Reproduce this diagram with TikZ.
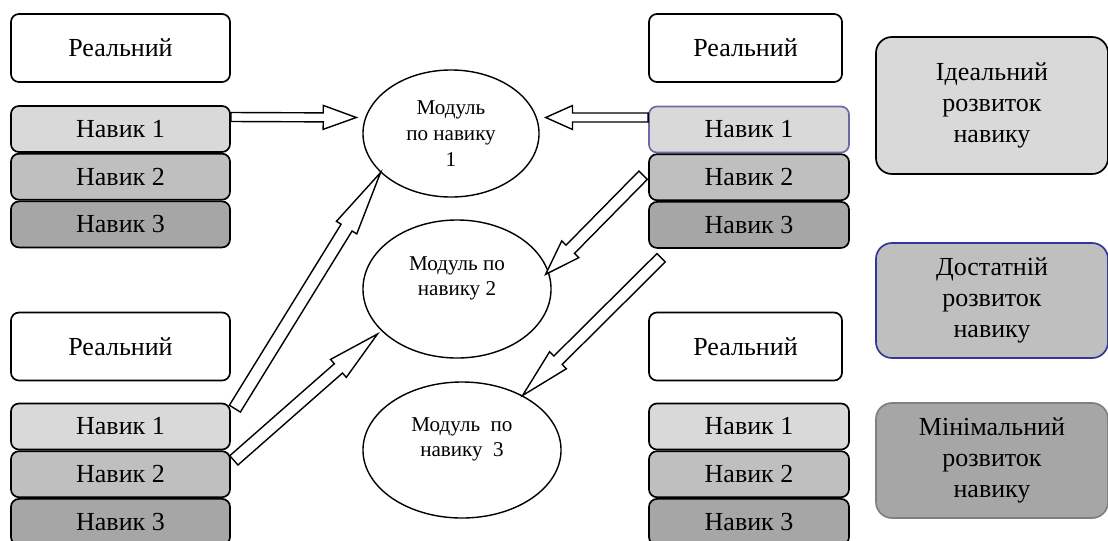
\documentclass[tikz,border=0pt]{standalone}
\usepackage{fontspec}
\setmainfont{Liberation Serif}
\usetikzlibrary{positioning,calc,shapes.geometric}
\definecolor{SkillOne}{HTML}{D9D9D9}
\definecolor{SkillTwo}{HTML}{BFBFBF}
\definecolor{SkillThree}{HTML}{A6A6A6}
\definecolor{EdgeBlue}{HTML}{35359E}
\definecolor{EdgeViolet}{HTML}{6A6AA6}
\definecolor{EdgeGray}{HTML}{808080}

% hollow block arrow: head length, half shaft width, from, to
\newcommand\blockarrow[4]{%
  \coordinate (ba-t) at (#3);
  \coordinate (ba-p) at (#4);
  \coordinate (ba-h) at ($(ba-p)!#1!(ba-t)$);
  \draw[blockarr] ($(ba-t)!#2!-90:(ba-p)$) -- ($(ba-h)!#2!-90:(ba-p)$)
    -- ($(ba-h)!8.5pt!-90:(ba-p)$) -- (ba-p) -- ($(ba-h)!8.5pt!90:(ba-p)$)
    -- ($(ba-h)!#2!90:(ba-p)$) -- ($(ba-t)!#2!90:(ba-p)$) -- cycle;}

\begin{document}
\begin{tikzpicture}[
    x=0.025cm, y=-0.025cm,
    font=\fontsize{18.5}{22}\selectfont,
    real/.style={draw, line width=1.2pt, rounded corners=2mm, fill=white, minimum width=#1, minimum height=1.7cm, inner sep=0pt},
    skill/.style={draw, line width=1.2pt, rounded corners=2mm, minimum width=#1, minimum height=1.15cm, inner sep=0pt},
    module/.style={draw, ellipse, line width=1pt, inner sep=0pt, align=center, font=\fontsize{15}{18.2}\selectfont},
    level/.style={draw, line width=1.2pt, rounded corners=4mm, minimum width=5.8cm, align=center, inner sep=0pt},
    blockarr/.style={draw, fill=white, line width=1pt, line join=miter}
]
\useasboundingbox (0,0) rectangle (1108,540);

% left column
\node[real=5.475cm] (rl1) at (120.5,48) {Реальний};
\node[skill=5.475cm, fill=SkillOne] (l1a) at (120.5,129) {Навик 1};
\node[skill=5.475cm, fill=SkillTwo, below=0pt of l1a] (l1b) {Навик 2};
\node[skill=5.475cm, fill=SkillThree, below=0pt of l1b] (l1c) {Навик 3};

\node[real=5.475cm] (rl2) at (120.5,346.5) {Реальний};
\node[skill=5.475cm, fill=SkillOne] (l2a) at (120.5,426.5) {Навик 1};
\node[skill=5.475cm, fill=SkillTwo, below=0pt of l2a] (l2b) {Навик 2};
\node[skill=5.475cm, fill=SkillThree, below=0pt of l2b] (l2c) {Навик 3};

% right column
\node[real=4.825cm] (rr1) at (745.5,48) {Реальний};
\node[skill=5cm, fill=SkillOne, draw=EdgeViolet] (r1a) at (749,129.5) {Навик 1};
\node[skill=5cm, fill=SkillTwo, below=0pt of r1a] (r1b) {Навик 2};
\node[skill=5cm, fill=SkillThree, below=0pt of r1b] (r1c) {Навик 3};

\node[real=4.825cm] (rr2) at (745.5,346.5) {Реальний};
\node[skill=5cm, fill=SkillOne] (r2a) at (749,426.5) {Навик 1};
\node[skill=5cm, fill=SkillTwo, below=0pt of r2a] (r2b) {Навик 2};
\node[skill=5cm, fill=SkillThree, below=0pt of r2b] (r2c) {Навик 3};

% modules
\node[module, minimum width=4.4cm, minimum height=3.175cm] (m1) at (451,133.5) {Модуль\\по навику\\1};
\node[module, minimum width=4.7cm, minimum height=3.45cm] (m2) at (457,289) {Модуль по\\навику 2\\\mbox{}};
\node[module, minimum width=4.95cm, minimum height=3.4cm] (m3) at (462,450) {Модуль~~по\\навику~~3\\\mbox{}};

% levels
\node[level, fill=SkillOne, minimum height=3.425cm] (ideal) at (992,105.5) {Ідеальний\\розвиток\\навику};
\node[level, fill=SkillTwo, draw=EdgeBlue, minimum height=2.875cm] (enough) at (992,300.5) {Достатній\\розвиток\\навику};
\node[level, fill=SkillThree, draw=EdgeGray, minimum height=2.875cm] (minimal) at (992,460.5) {Мінімальний\\розвиток\\навику};

\blockarrow{23.5pt}{3.2pt}{$(l1a.east)+(0,-12)$}{$(m1.west)+(-6,-16)$}
\blockarrow{19pt}{3.2pt}{$(r1a.west)+(0,-12)$}{$(m1.east)+(6,-16)$}
\blockarrow{46pt}{4.6pt}{$(l2a.north east)+(4,6)$}{m1.209}
\blockarrow{37pt}{4.4pt}{$(l2b.north east)+(3,10)$}{$(m2.210)+(-5,2)$}
\blockarrow{25pt}{4.2pt}{$(r1b.west)+(-5,-2)$}{$(m2.9)+(-4,0)$}
\blockarrow{35.5pt}{4.2pt}{$(r1c.south west)+(13,9)$}{m3.42}
\end{tikzpicture}
\end{document}
